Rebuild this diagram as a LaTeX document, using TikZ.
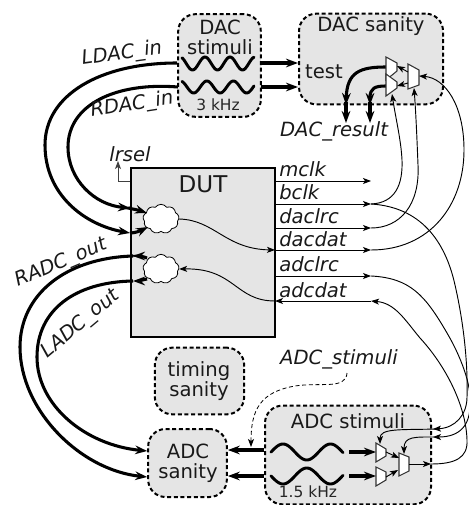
\documentclass[tikz,border=0pt]{standalone}
\usepackage{fontspec}
\setmainfont{DejaVu Sans}
\usetikzlibrary{arrows.meta,shapes.symbols}
\definecolor{boxfill}{HTML}{E5E5E5}
\tikzset{
  block/.style={draw=black,line width=1.5pt,densely dashed,fill=boxfill,rounded corners=13pt,inner sep=0pt,text depth=0pt},
  lbl/.style={font=\fontsize{14.7}{15}\selectfont,inner sep=0pt,align=center,text=black!90},
  ital/.style={lbl,font=\fontsize{14.7}{15}\selectfont\itshape},
  small/.style={font=\fontsize{11.6}{13}\selectfont,inner sep=0pt,text=black!85},
  thick line/.style={line width=2.3pt,-{Stealth[length=9pt,width=6.5pt,inset=3pt]}},
  thick plain/.style={line width=2.3pt},
  thin line/.style={line width=0.7pt,-{Stealth[length=6pt,width=4.5pt,inset=1.5pt]}},
  thin plain/.style={line width=0.7pt},
  wave/.style={line width=2.2pt,line cap=round},
  muxshape/.style={draw=black!80,line width=0.8pt,fill=white,line join=miter},
  puff/.style={cloud,cloud puffs=9,cloud puff arc=110,aspect=1.2,draw=black,line width=0.6pt,fill=white,inner sep=0pt,minimum width=27pt,minimum height=22pt}
}
\begin{document}
\begin{tikzpicture}[x=0.75pt,y=-0.75pt]
\useasboundingbox (0,0) rectangle (468,505);
\fill[white] (0,0) rectangle (468,505);
% boxes
\node[block,minimum width=62pt,minimum height=77pt] (dacstim) at (219.5,65.5) {};
\node[block,minimum width=108pt,minimum height=68pt] (dacsan) at (371,59) {};
\node[draw=black,line width=1.4pt,fill=boxfill,minimum width=108pt,minimum height=127pt,inner sep=0pt] (dut) at (203,252.5) {};
\node[block,minimum width=67pt,minimum height=50pt] (timing) at (199.5,381) {};
\node[block,minimum width=59pt,minimum height=51pt] (adcsan) at (187.5,463) {};
\node[block,minimum width=124.5pt,minimum height=74pt] (adcstim) at (348,455) {};
% box labels
\node[lbl] (t1) at (220,37) {DAC\\stimuli};
\node[lbl] (t2) at (371,26) {DAC sanity};
\node[lbl,font=\fontsize{17.3}{18}\selectfont] (t3) at (203,184) {DUT};
\node[lbl] (t4) at (199,381) {timing\\sanity};
\node[lbl] (t5) at (188,463) {ADC\\sanity};
\node[lbl] (t6) at (348,421) {ADC stimuli};
\node[small] (t7) at (218,105) {3 kHz};
\node[small] (t8) at (308,492) {1.5 kHz};
\node[lbl] (t9) at (324,72) {test};
% waves
\draw[wave,domain=182:254,samples=70,smooth] plot (\x,{63.5-6.5*cos((\x-205)/25*360)});
\draw[wave,domain=182:254,samples=70,smooth] plot (\x,{87+6*sin((\x-187)/26.5*360)});
\draw[wave,domain=271:343,samples=70,smooth] plot (\x,{452-8*cos((\x-283)/47.5*360)});
\draw[wave,domain=271:343,samples=70,smooth] plot (\x,{476+8*cos((\x-283)/47.5*360)});
% clouds
\node[puff] (c1) at (161,219) {};
\node[puff] (c2) at (161,269) {};
% named points
\coordinate (mclkA) at (275,181); \coordinate (mclkB) at (371,181);
\coordinate (bclkA) at (275,204); \coordinate (bclkB) at (371,204);
\coordinate (lrA) at (275,228);   \coordinate (lrB) at (371,228);
\coordinate (ddA) at (275,250);   \coordinate (ddB) at (371,250);
\coordinate (alA) at (275,276);   \coordinate (alB) at (371,276);
\coordinate (adA) at (275,301);   \coordinate (adB) at (371,301);
\coordinate (lin) at (130,233); \coordinate (rin) at (130,208);
\coordinate (rout) at (133,256); \coordinate (lout) at (133,281);
% DAC stimuli to sanity
\draw[thick line] (261,63) -- (298,63);
\draw[thick line] (261,87) -- (298,87);
% mux thick outputs
\draw[thick line] (386,67) .. controls (360,67) and (347,72) .. (346,105);
\draw[thick line] (346,102) -- (346,123);
\draw[thick line] (386,86) .. controls (375,86) and (370,88) .. (370,105);
\draw[thick line] (370,102) -- (370,123);
% DAC muxes
\draw[muxshape] (386,57) -- (397,63) -- (397,71) -- (386,80) -- cycle;
\draw[muxshape] (386,74) -- (397,82) -- (397,88) -- (386,96) -- cycle;
\draw[muxshape] (408,64) -- (419,70) -- (419,85) -- (408,89) -- cycle;
\draw[thin line] (408,72) -- (397,66);
\draw[thin line] (408,83) -- (397,86);
% DAC inputs
\draw[thick plain,-{Stealth[length=9pt,width=6.5pt,inset=3pt]}] (dacstim.west |- 0,63) .. controls (100,63) and (45,95) .. (45,145) .. controls (45,195) and (85,225) .. (lin);
\draw[thick plain,-{Stealth[length=9pt,width=6.5pt,inset=3pt]}] (178,87) .. controls (115,82) and (68,105) .. (68,147) .. controls (68,180) and (95,205) .. (rin);
\draw[thick line] (lin) .. controls (135,233) and (140,231) .. (148,227);
\draw[thick line] (rin) .. controls (125,208) and (135,209) .. (147,213);
% ADC out
\draw[thick line] (147,258) .. controls (142,256) and (138,256) .. (rout);
\draw[thick line] (147,279) .. controls (142,280) and (138,281) .. (lout);
\draw[thick plain,-{Stealth[length=9pt,width=6.5pt,inset=3pt]}] (rout) .. controls (65,258) and (20,295) .. (20,347) .. controls (20,410) and (80,470) .. (adcsan.west |- 0,477);
\draw[thick plain,-{Stealth[length=9pt,width=6.5pt,inset=3pt]}] (lout) .. controls (75,282) and (37,310) .. (37,357) .. controls (37,405) and (85,445) .. (adcsan.west |- 0,451);
% lrsel
\draw[line width=0.7pt,draw=black!75,-{Stealth[length=6pt,width=4.5pt,inset=1.5pt]}] (dut.west |- 0,181) -- (118,181) -- (118,161);
% pins
\draw[thin line] (mclkA) -- (mclkB);
\draw[thin line] (bclkA) -- (bclkB);
\draw[thin line] (lrA) -- (lrB);
\draw[thin line] (ddA) -- (ddB);
\draw[thin line] (alA) -- (alB);
\draw[thin line] (adB) -- (adA);
% cloud links
\draw[thin line] (c1.east) .. controls (215,220) and (225,249) .. (ddA);
\draw[thin line] (adA) .. controls (235,301) and (235,268) .. (c2.east);
% clocks to DAC sanity
\draw[thin line] (bclkB) .. controls (395,203) and (403,185) .. (402,160) .. controls (401,140) and (396,120) .. (392,94);
\draw[thin line] (lrB) .. controls (400,228) and (420,205) .. (418,165) .. controls (417,140) and (416,115) .. (414,88);
\draw[thin line] (ddB) .. controls (430,250) and (464,205) .. (464,150) .. controls (464,105) and (445,78) .. (419,76);
% clocks to ADC stimuli
\draw[thin line] (bclkB) .. controls (420,207) and (445,240) .. (455,285) .. controls (463,320) and (468,360) .. (467,397) .. controls (467,415) and (455,428) .. (433,429);
\draw[thin line] (alB) .. controls (410,278) and (425,295) .. (447,333) .. controls (460,355) and (472,385) .. (470,405) .. controls (470,425) and (460,437) .. (433,437);
\draw[thin line] (431,464) .. controls (455,464) and (468,458) .. (467,440) .. controls (466,405) and (445,365) .. (420,338) .. controls (405,320) and (395,303) .. (adB);
% ADC stim
\draw[thick line] (349,452) -- (376,452);
\draw[thick line] (349,476) -- (376,476);
\draw[thick line] (adcstim.west |- 0,450) -- (adcsan.east |- 0,450);
\draw[thick line] (adcstim.west |- 0,476) -- (adcsan.east |- 0,476);
\draw[muxshape] (376,443) -- (386,449) -- (386,456) -- (376,462) -- cycle;
\draw[muxshape] (376,467) -- (386,472) -- (386,480) -- (376,486) -- cycle;
\draw[muxshape] (399,453) -- (409,457) -- (409,471) -- (399,476) -- cycle;
\draw[thin line] (386,452) -- (399,458);
\draw[thin line] (386,477) -- (398,470);
\draw[thin line] (409,464) -- (431,464);
\draw[thin line] (437,429) .. controls (400,430) and (380,428) .. (380,444);
\draw[thin line] (437,437) .. controls (415,437) and (404,436) .. (404,454);
% dashed link
\node[ital] (adcs) at (339,359) {ADC\_stimuli};
\coordinate (dashend) at (251,447);
\draw[line width=0.6pt,densely dashed,-{Stealth[length=6pt,width=4.5pt,inset=1.5pt]}] (347,373) .. controls (346,390) and (320,382) .. (295,386) .. controls (260,392) and (251,410) .. (dashend);
% italic labels
\node[ital,rotate=8] (l1) at (122,54) {LDAC\_in};
\node[ital,rotate=9] (l2) at (132,105) {RDAC\_in};
\node[ital,rotate=23] (l3) at (61,263) {RADC\_out};
\node[ital,rotate=40] (l4) at (81,324) {LADC\_out};
\node[ital] (l5) at (130,154) {lrsel};
\node[ital] (l6) at (334,131) {DAC\_result};
\node[ital,anchor=base west] (p1) at (279,177) {mclk};
\node[ital,anchor=base west] (p2) at (279,200) {bclk};
\node[ital,anchor=base west] (p3) at (279,224) {daclrc};
\node[ital,anchor=base west] (p4) at (279,247) {dacdat};
\node[ital,anchor=base west] (p5) at (279,272) {adclrc};
\node[ital,anchor=base west] (p6) at (279,297) {adcdat};
\end{tikzpicture}
\end{document}
